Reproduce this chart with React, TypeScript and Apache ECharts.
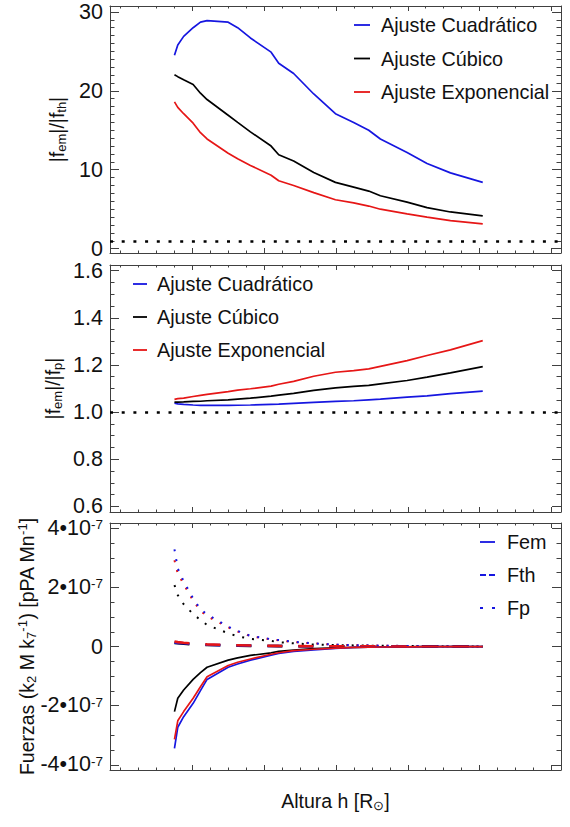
import React, { useEffect, useRef } from 'react';
import * as echarts from 'echarts';

// Heights (R_sun) where the curves are sampled
const H = [1.0375, 1.0398, 1.0439, 1.0505, 1.0556, 1.0602, 1.0749, 1.0815, 1.0904, 1.1048, 1.1101, 1.1205, 1.1345, 1.1496, 1.1623, 1.1728, 1.1809, 1.1995, 1.2134, 1.2297, 1.2522];

// Panel 1: |f_em|/|f_th|
const thQuad = [24.5, 25.8, 26.9, 28.0, 28.7, 28.9, 28.7, 28.0, 26.7, 24.9, 23.5, 22.2, 19.6, 17.1, 16.0, 15.0, 13.9, 12.2, 10.8, 9.6, 8.4];
const thCub = [22.05, 21.8, 21.4, 20.8, 19.7, 18.9, 16.9, 16.0, 14.8, 13.0, 11.9, 11.1, 9.65, 8.4, 7.8, 7.3, 6.7, 5.9, 5.2, 4.65, 4.15];
const thExp = [18.6, 17.9, 17.1, 15.9, 14.7, 13.9, 12.1, 11.4, 10.55, 9.3, 8.6, 8.0, 7.1, 6.2, 5.8, 5.4, 5.0, 4.4, 4.0, 3.55, 3.15];

// Panel 2: |f_em|/|f_p|
const pQuad = [1.038, 1.035, 1.033, 1.030, 1.028, 1.028, 1.028, 1.029, 1.030, 1.033, 1.034, 1.037, 1.041, 1.045, 1.048, 1.052, 1.055, 1.063, 1.069, 1.078, 1.089];
const pCub = [1.042, 1.042, 1.043, 1.045, 1.046, 1.048, 1.052, 1.055, 1.059, 1.068, 1.072, 1.079, 1.092, 1.103, 1.109, 1.113, 1.120, 1.134, 1.148, 1.166, 1.193];
const pExp = [1.054, 1.057, 1.059, 1.066, 1.071, 1.075, 1.087, 1.093, 1.099, 1.110, 1.118, 1.130, 1.152, 1.169, 1.176, 1.183, 1.194, 1.218, 1.240, 1.264, 1.303];

// Panel 3: forces, in units of 1e-7
const femQuad = [-3.44, -2.73, -2.37, -1.92, -1.49, -1.11, -0.70, -0.59, -0.46, -0.29, -0.23, -0.16, -0.11, -0.06, -0.03, -0.02, -0.015, -0.01, -0.005, -0.003, 0];
const femCub = [-2.20, -1.75, -1.47, -1.11, -0.88, -0.70, -0.46, -0.38, -0.30, -0.21, -0.16, -0.12, -0.07, -0.04, -0.03, -0.02, -0.01, -0.008, -0.005, -0.003, 0];
const femExp = [-3.14, -2.51, -2.20, -1.75, -1.36, -1.02, -0.64, -0.53, -0.42, -0.26, -0.21, -0.14, -0.09, -0.05, -0.03, -0.02, -0.015, -0.01, -0.005, -0.003, 0];
const fthQuad = [0.14, 0.125, 0.11, 0.085, 0.07, 0.06, 0.04, 0.035, 0.028, 0.02, 0.018, 0.014, 0.01, 0.008, 0.006, 0.005, 0.004, 0.003, 0.002, 0.0015, 0.001];
const fthCub = [0.12, 0.11, 0.095, 0.075, 0.062, 0.053, 0.036, 0.031, 0.025, 0.018, 0.016, 0.012, 0.009, 0.007, 0.005, 0.004, 0.0035, 0.0025, 0.002, 0.0012, 0.0008];
const fthExp = [0.17, 0.15, 0.13, 0.10, 0.085, 0.075, 0.05, 0.045, 0.035, 0.025, 0.022, 0.018, 0.013, 0.01, 0.008, 0.006, 0.005, 0.004, 0.003, 0.002, 0.0015];
const fpQuad = [3.29, 2.64, 2.21, 1.63, 1.26, 1.09, 0.67, 0.53, 0.36, 0.25, 0.22, 0.16, 0.11, 0.06, 0.05, 0.04, 0.03, 0.02, 0.015, 0.01, 0.005];
const fpCub = [2.08, 1.74, 1.43, 1.10, 0.90, 0.73, 0.45, 0.35, 0.26, 0.19, 0.15, 0.11, 0.07, 0.05, 0.04, 0.03, 0.025, 0.02, 0.01, 0.005, 0.003];
const fpExp = [2.92, 2.47, 2.11, 1.55, 1.21, 1.03, 0.65, 0.51, 0.35, 0.24, 0.21, 0.15, 0.11, 0.06, 0.05, 0.04, 0.03, 0.02, 0.015, 0.01, 0.005];

// Ticks
const X_MAJOR = [1.05, 1.10, 1.15, 1.20, 1.25, 1.30];
const Y1_MAJOR = [0, 10, 20, 30];
const Y2_MAJOR = [0.6, 0.8, 1.0, 1.2, 1.4, 1.6];
const Y3_MAJOR = [-4, -2, 0, 2, 4];

const LEGEND_FIT = ['Ajuste Cuadrático', 'Ajuste Cúbico', 'Ajuste Exponencial'];
const LEGEND_FORCE = ['Fem', 'Fth', 'Fp'];

const FONT = "'Liberation Sans', Arial, Helvetica, sans-serif";
const AX = '#404040';
const TXT = '#111111';
const BLUE = '#1616e0';
const RED = '#e61616';
const BLACK = '#000000';

const X_MIN = 0.9926;
const X_MAX = 1.3067;
const GRID_LEFT = 110;
const GRID_W = 451;
const GRIDS = [
  { top: 6, height: 247, min: -0.55, max: 30.75 },
  { top: 265, height: 247, min: 0.576, max: 1.624 },
  { top: 523, height: 247, min: -4.175, max: 4.18 },
];

function minorTicks(start: number, end: number, step: number, majors: number[]) {
  const out: number[] = [];
  const n = Math.round((end - start) / step);
  for (let i = 0; i <= n; i++) {
    const v = +(start + i * step).toFixed(6);
    if (!majors.some((m) => Math.abs(m - v) < 1e-9)) out.push(v);
  }
  return out;
}
const X_MINOR = minorTicks(1.0, 1.3, 0.0125, X_MAJOR);
const Y_MAJORS = [Y1_MAJOR, Y2_MAJOR, Y3_MAJOR];
const Y_MINORS = [minorTicks(0, 30, 1, Y1_MAJOR), minorTicks(0.6, 1.6, 0.05, Y2_MAJOR), minorTicks(-4, 4, 0.5, Y3_MAJOR)];

function xAxesFor(g: number) {
  const base = { type: 'value', gridIndex: g, min: X_MIN, max: X_MAX, splitLine: { show: false }, axisLabel: { show: false } };
  const mk = (position: string, major: boolean) => ({
    ...base,
    position,
    axisLine: { show: major, onZero: false, lineStyle: { color: AX, width: 1 } },
    axisTick: { show: true, inside: true, length: major ? 5 : 2.5, customValues: major ? X_MAJOR : X_MINOR, lineStyle: { color: AX, width: 1 } },
  });
  return [mk('bottom', true), mk('bottom', false), mk('top', true), mk('top', false)];
}

const labelFormatters = [
  (v: number) => `{z|${v}}`,
  (v: number) => `{z|${v.toFixed(1)}}`,
  (v: number) => (Math.abs(v) < 1e-9 ? '{z|0}' : `{m|${v}•10}{u|-7}`),
];

function yAxesFor(g: number) {
  const gr = GRIDS[g];
  const base = { type: 'value', gridIndex: g, min: gr.min, max: gr.max, splitLine: { show: false } };
  const mk = (position: string, major: boolean, labels: boolean) => ({
    ...base,
    position,
    axisLine: { show: major, onZero: false, lineStyle: { color: AX, width: 1 } },
    axisTick: { show: true, inside: true, length: major ? 9 : 4.5, customValues: major ? Y_MAJORS[g] : Y_MINORS[g], lineStyle: { color: AX, width: 1 } },
    axisLabel: labels
      ? {
          show: true,
          customValues: Y_MAJORS[g],
          formatter: labelFormatters[g],
          margin: 7,
          fontSize: 21.5,
          fontFamily: FONT,
          color: TXT,
          hideOverlap: false,
          rich: {
            z: { fontSize: 21.5, fontFamily: FONT, color: TXT, lineHeight: 17 },
            m: { fontSize: 21.5, fontFamily: FONT, color: TXT, lineHeight: 21, verticalAlign: 'bottom' },
            u: { fontSize: 13.5, fontFamily: FONT, color: TXT, lineHeight: 13, padding: [0, 0, 9, 0], verticalAlign: 'top' },
          },
        }
      : { show: false },
  });
  return [mk('left', true, true), mk('left', false, false), mk('right', true, false), mk('right', false, false)];
}

function line(name: string, g: number, ys: number[], color: string, type: any, width: number, extra: any = {}) {
  return {
    type: 'line',
    name,
    xAxisIndex: 4 * g,
    yAxisIndex: 4 * g,
    data: H.map((h, i) => [h, ys[i]]),
    symbol: 'none',
    showSymbol: false,
    silent: true,
    lineStyle: { color, width, type },
    itemStyle: { color },
    ...extra,
  };
}

const refLine = (value: number) => ({
  markLine: {
    silent: true,
    symbol: ['none', 'none'],
    label: { show: false },
    lineStyle: { color: BLACK, width: 2.6, type: [3, 8.7] },
    data: [{ yAxis: value }],
  },
});

const titleRich = {
  m: { fontSize: 19.5, fontFamily: FONT, fill: TXT, lineHeight: 22, verticalAlign: 'middle' },
  s: { fontSize: 13, fontFamily: FONT, fill: TXT, lineHeight: 13, padding: [12, 0, 0, 0], verticalAlign: 'bottom' },
  u: { fontSize: 13, fontFamily: FONT, fill: TXT, lineHeight: 13, padding: [0, 0, 12, 0], verticalAlign: 'top' },
};

function vTitle(text: string, x: number, y: number) {
  return {
    type: 'text',
    x,
    y,
    rotation: Math.PI / 2,
    style: { text, rich: titleRich, fontSize: 19.5, fontFamily: FONT, fill: TXT, align: 'center', verticalAlign: 'middle' },
  };
}

function legendItems(names: string[], colors: string[], dashes: any[], x1: number, x2: number, tx: number, ys: number[]) {
  const els: any[] = [];
  names.forEach((n, i) => {
    els.push({
      type: 'line',
      shape: { x1, y1: ys[i], x2, y2: ys[i] },
      style: { stroke: colors[i], lineWidth: 1.8, lineDash: dashes[i] },
    });
    els.push({
      type: 'text',
      x: tx,
      y: ys[i],
      style: { text: n, fontSize: 19.8, fontFamily: FONT, fill: TXT, align: 'left', verticalAlign: 'middle' },
    });
  });
  return els;
}

function buildOption() {
  const xAxis = [0, 1, 2].flatMap((g) => xAxesFor(g));
  const yAxis = [0, 1, 2].flatMap((g) => yAxesFor(g));
  const dash = [15, 16];
  const dot = [2, 8];
  const series = [
    line('Ajuste Cuadrático', 0, thQuad, BLUE, 'solid', 1.7),
    line('Ajuste Cúbico', 0, thCub, BLACK, 'solid', 1.7),
    line('Ajuste Exponencial', 0, thExp, RED, 'solid', 1.7, refLine(1)),
    line('Ajuste Cuadrático', 1, pQuad, BLUE, 'solid', 1.7),
    line('Ajuste Cúbico', 1, pCub, BLACK, 'solid', 1.7),
    line('Ajuste Exponencial', 1, pExp, RED, 'solid', 1.7, refLine(1)),
    line('Fp cúbico', 2, fpCub, BLACK, dot, 2),
    line('Fp exponencial', 2, fpExp, RED, dot, 2),
    line('Fp cuadrático', 2, fpQuad, BLUE, dot, 2),
    line('Fth cúbico', 2, fthCub, BLACK, dash, 2.6),
    line('Fth cuadrático', 2, fthQuad, BLUE, dash, 2.6),
    line('Fth exponencial', 2, fthExp, RED, dash, 2.6),
    line('Fem cúbico', 2, femCub, BLACK, 'solid', 1.7),
    line('Fem cuadrático', 2, femQuad, BLUE, 'solid', 1.7),
    line('Fem exponencial', 2, femExp, RED, 'solid', 1.7),
  ];
  const graphic = [
    vTitle('{m||f}{s|em}{m||/|f}{s|th}{m||}', 57, 129.5),
    vTitle('{m||f}{s|em}{m||/|f}{s|p}{m||}', 53, 388.5),
    vTitle('{m|Fuerzas (k}{s|2}{m| M k}{s|7}{u|-1}{m|) [pPA Mn}{u|-1}{m|]}', 27, 646.5),
    {
      type: 'text',
      x: 335.5,
      y: 801,
      style: { text: '{m|Altura h [R}{s|⊙}{m|]}', rich: titleRich, fontSize: 19.5, fontFamily: FONT, fill: TXT, align: 'center', verticalAlign: 'middle' },
    },
    ...legendItems(LEGEND_FIT, [BLUE, BLACK, RED], [null, null, null], 354, 370, 381, [25, 58.5, 92]),
    ...legendItems(LEGEND_FIT, [BLUE, BLACK, RED], [null, null, null], 133, 147, 157, [284, 317, 350]),
    ...legendItems(LEGEND_FORCE, [BLUE, BLUE, BLUE], [null, [6, 3], [3, 9]], 480, 495, 507, [542, 575, 608]),
  ];
  return {
    animation: false,
    backgroundColor: '#ffffff',
    grid: GRIDS.map((g) => ({ left: GRID_LEFT, width: GRID_W, top: g.top, height: g.height, containLabel: false, outerBoundsMode: 'none' })),
    xAxis,
    yAxis,
    series,
    graphic,
  };
}

export default function App() {
  const ref = useRef<HTMLDivElement>(null);
  useEffect(() => {
    const chart = echarts.init(ref.current!, null, { renderer: 'svg', width: 570, height: 827 });
    chart.setOption(buildOption() as any);
    return () => chart.dispose();
  }, []);
  return <div ref={ref} style={{ position: 'fixed', left: 0, top: 0, width: 570, height: 827, background: '#fff' }} />;
}
